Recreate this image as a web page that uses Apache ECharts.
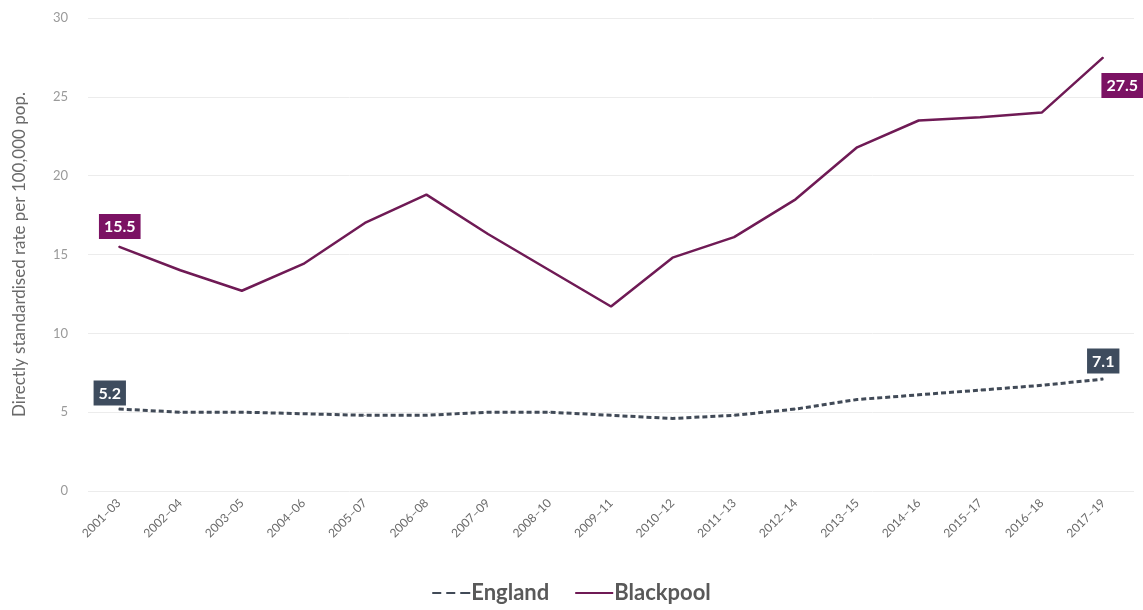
<!DOCTYPE html>
<html>
<head>
<meta charset="utf-8">
<script src="https://cdn.jsdelivr.net/npm/echarts@6/dist/echarts.min.js"></script>
<style>html,body{margin:0;padding:0;background:#fff;}#c{width:1143px;height:610px;}</style>
</head>
<body>
<div id="c"></div>
<script>
var categories = ['2001\u201303','2002\u201304','2003\u201305','2004\u201306','2005\u201307','2006\u201308','2007\u201309','2008\u201310','2009\u201311','2010\u201312','2011\u201313','2012\u201314','2013\u201315','2014\u201316','2015\u201317','2016\u201318','2017\u201319'];
var england = [5.2, 5.0, 5.0, 4.9, 4.8, 4.8, 5.0, 5.0, 4.8, 4.6, 4.8, 5.2, 5.8, 6.1, 6.4, 6.7, 7.1];
var blackpool = [15.5, 14.0, 12.7, 14.4, 17.0, 18.8, 16.3, 14.0, 11.7, 14.8, 16.1, 18.5, 21.8, 23.5, 23.7, 24.0, 27.5];
var yTicks = [0, 5, 10, 15, 20, 25, 30];

var FONT = 'Lato, "Open Sans", sans-serif';
var PURPLE = '#6f1a55';
var PURPLE_BG = '#7b1263';
var SLATE = '#414a57';
var SLATE_BG = '#3e4c5e';

function labelled(values, firstOpt, lastOpt) {
  return values.map(function (v, i) {
    if (i === 0) return { value: v, label: firstOpt };
    if (i === values.length - 1) return { value: v, label: lastOpt };
    return v;
  });
}
function boxLabel(bg, pos, dist, off) {
  return {
    show: true, position: pos, distance: dist, offset: off,
    backgroundColor: bg, color: '#fff', fontFamily: FONT, fontWeight: 'bold',
    fontSize: 16, padding: [5, 5, 4, 5], formatter: function (p) { return p.value.toFixed(1); }
  };
}

var chart = echarts.init(document.getElementById('c'));
chart.setOption({
  animation: false,
  grid: { left: 88, right: 9, top: 18, bottom: 119 },
  legend: {
    bottom: 1, left: 'center', itemWidth: 38, itemHeight: 2.5, itemGap: 26,
    textStyle: { fontFamily: FONT, fontSize: 22, fontWeight: 'bold', color: '#595959', padding: [0, 0, 0, -4] },
    data: [
      { name: 'England', icon: 'path://M0,0h9v2h-9zM14,0h9v2h-9zM28,0h10v2h-10z' },
      { name: 'Blackpool', icon: 'path://M0,0h38v2h-38z' }
    ]
  },
  xAxis: {
    type: 'category', data: categories, boundaryGap: true,
    axisLine: { show: false }, axisTick: { show: false },
    axisLabel: { rotate: 45, fontFamily: FONT, fontSize: 12, color: '#6a6a6a', margin: 10 }
  },
  yAxis: {
    type: 'value', min: yTicks[0], max: yTicks[yTicks.length - 1], interval: 5,
    name: 'Directly standardised rate per 100,000 pop.', nameLocation: 'middle', nameGap: 60,
    nameTextStyle: { fontFamily: FONT, fontSize: 17, color: '#6a6a6a' },
    axisLine: { show: false }, axisTick: { show: false },
    axisLabel: { fontFamily: FONT, fontSize: 13, color: '#9a9a9a', margin: 20 },
    splitLine: { lineStyle: { color: '#ececec', width: 1 } }
  },
  series: [
    {
      name: 'England', type: 'line', symbol: 'circle', symbolSize: 1, showSymbol: true,
      lineStyle: { color: SLATE, width: 3, type: [5, 3] },
      itemStyle: { color: SLATE },
      data: labelled(england, boxLabel(SLATE_BG, 'top', 3, [-9, 0]), boxLabel(SLATE_BG, 'top', 5, [0, 0]))
    },
    {
      name: 'Blackpool', type: 'line', symbol: 'circle', symbolSize: 1, showSymbol: true,
      lineStyle: { color: PURPLE, width: 2.5 },
      itemStyle: { color: PURPLE },
      data: labelled(blackpool, boxLabel(PURPLE_BG, 'top', 7, [1, 0]), boxLabel(PURPLE_BG, 'bottom', 15, [19, 0]))
    }
  ]
});
</script>
</body>
</html>
